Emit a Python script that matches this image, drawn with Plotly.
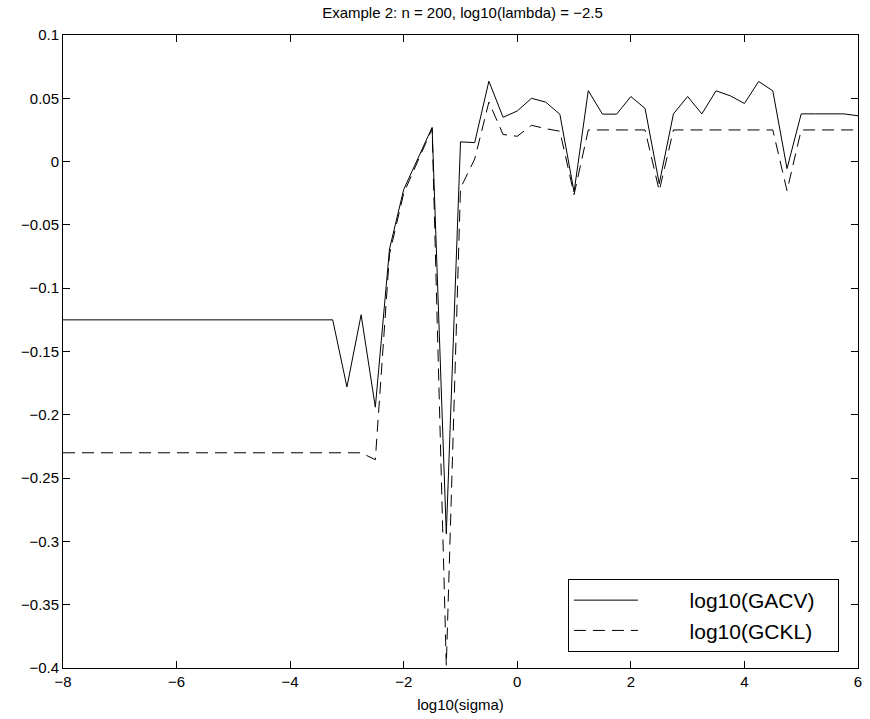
import plotly.graph_objects as go

# log10(sigma) grid
log_sigma = [-8.0, -7.75, -7.5, -7.25, -7.0, -6.75, -6.5, -6.25, -6.0, -5.75,
             -5.5, -5.25, -5.0, -4.75, -4.5, -4.25, -4.0, -3.75, -3.5, -3.25,
             -3.0, -2.75, -2.5, -2.25, -2.0, -1.75, -1.5, -1.25, -1.0, -0.75,
             -0.5, -0.25, 0.0, 0.25, 0.5, 0.75, 1.0, 1.25, 1.5, 1.75,
             2.0, 2.25, 2.5, 2.75, 3.0, 3.25, 3.5, 3.75, 4.0, 4.25,
             4.5, 4.75, 5.0, 5.25, 5.5, 5.75, 6.0]

log_gacv = [-0.125, -0.125, -0.125, -0.125, -0.125, -0.125, -0.125, -0.125, -0.125, -0.125,
            -0.125, -0.125, -0.125, -0.125, -0.125, -0.125, -0.125, -0.125, -0.125, -0.125,
            -0.178, -0.121, -0.194, -0.069, -0.022, 0.003, 0.027, -0.294, 0.0156, 0.015,
            0.0635, 0.035, 0.040, 0.050, 0.047, 0.0374, -0.024, 0.056, 0.0375, 0.0375,
            0.0514, 0.042, -0.0174, 0.0377, 0.0514, 0.0377, 0.0559, 0.052, 0.0459, 0.0633,
            0.0559, -0.0055, 0.0377, 0.0377, 0.0377, 0.0377, 0.0362]

log_gckl = [-0.23, -0.23, -0.23, -0.23, -0.23, -0.23, -0.23, -0.23, -0.23, -0.23,
            -0.23, -0.23, -0.23, -0.23, -0.23, -0.23, -0.23, -0.23, -0.23, -0.23,
            -0.23, -0.23, -0.2355, -0.073, -0.025, 0.0, 0.026, -0.398, -0.021, 0.002,
            0.047, 0.0214, 0.020, 0.0287, 0.026, 0.024, -0.026, 0.025, 0.025, 0.025,
            0.025, 0.025, -0.023, 0.025, 0.025, 0.025, 0.025, 0.025, 0.025, 0.025,
            0.025, -0.023, 0.025, 0.025, 0.025, 0.025, 0.025]

series_names = ["log10(GACV)", "log10(GCKL)"]
x_ticks = [-8, -6, -4, -2, 0, 2, 4, 6]
x_ticklabels = ["\u22128", "\u22126", "\u22124", "\u22122", "0", "2", "4", "6"]
y_ticks = [0.1, 0.05, 0, -0.05, -0.1, -0.15, -0.2, -0.25, -0.3, -0.35, -0.4]
y_ticklabels = ["0.1", "0.05", "0", "\u22120.05", "\u22120.1", "\u22120.15", "\u22120.2",
                "\u22120.25", "\u22120.3", "\u22120.35", "\u22120.4"]

FONT = "Liberation Sans, Arial, Helvetica, sans-serif"
PAD_L = "\u00a0" * 8  # gap between legend sample line and its text
PAD_R = "\u00a0" * 3  # right padding inside legend box

fig = go.Figure()
fig.add_trace(go.Scatter(x=log_sigma, y=log_gacv, mode="lines",
                         name=PAD_L + series_names[0] + PAD_R,
                         line=dict(color="black", width=1)))
fig.add_trace(go.Scatter(x=log_sigma, y=log_gckl, mode="lines",
                         name=PAD_L + series_names[1] + PAD_R,
                         line=dict(color="black", width=1, dash="12px,7px")))

axis_common = dict(showline=True, linecolor="black", linewidth=1, mirror="ticks",
                   ticks="inside", ticklen=7, tickcolor="black", tickwidth=1,
                   showgrid=False, zeroline=False, ticklabeloverflow="allow",
                   tickfont=dict(family=FONT, size=15, color="black"))

fig.update_layout(
    width=870, height=719,
    margin=dict(l=63, r=8, t=35, b=51),
    paper_bgcolor="white", plot_bgcolor="white",
    title=dict(text="Example 2: n = 200, log10(lambda) = \u22122.5",
               x=(63 + 862) / 2 / 870, xanchor="center",
               y=1 - 13 / 719, yanchor="middle", yref="container",
               font=dict(family=FONT, size=15, color="black")),
    xaxis=dict(range=[-8, 6], tickvals=x_ticks, ticktext=x_ticklabels,
               title=dict(text="log10(sigma)", standoff=10,
                          font=dict(family=FONT, size=15, color="black")),
               **axis_common),
    yaxis=dict(range=[-0.4, 0.1], tickvals=y_ticks, ticktext=y_ticklabels,
               **axis_common),
    legend=dict(x=0.976, xanchor="right", y=0.0253, yanchor="bottom",
                bgcolor="white", bordercolor="black", borderwidth=1,
                font=dict(family=FONT, size=21, color="black"),
                itemwidth=64, tracegroupgap=0),
    showlegend=True,
)

fig.write_html("out.html", config={"displayModeBar": False},
               post_script="document.body.style.margin='0';document.body.style.overflow='hidden';")
